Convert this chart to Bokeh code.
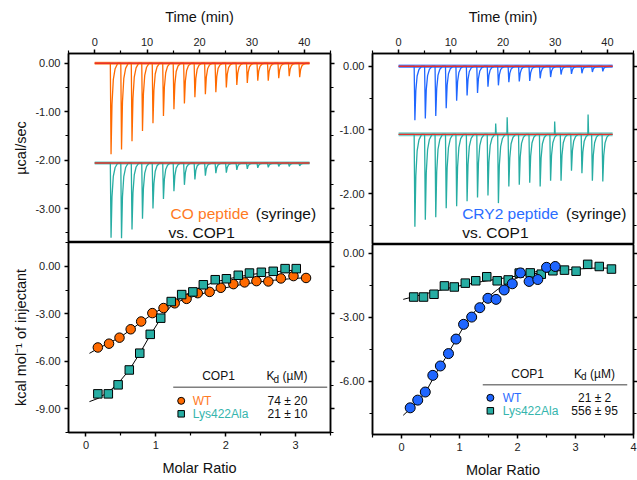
from bokeh.plotting import figure
from bokeh.layouts import row, column
from bokeh.models import LinearAxis, FixedTicker, NumeralTickFormatter, CustomJSTickFormatter, Range1d
from bokeh.embed import file_html
from bokeh.resources import INLINE
from bokeh.core.properties import value

# ---------------- data ----------------
inj_time = [3, 5, 7, 9, 11, 13, 15, 17, 19, 21, 23, 25, 27, 29, 31, 33, 35, 37, 39]
trace_start = 0.0
trace_end = 41.0

co_wt_base = 0.0
co_wt_peak = [-1.88, -1.78, -1.61, -1.40, -1.24, -1.09, -0.95, -0.83, -0.70, -0.64,
              -0.60, -0.50, -0.45, -0.41, -0.36, -0.36, -0.31, -0.27, -0.29]
co_k_base = -2.06
co_k_peak = [-3.60, -3.61, -3.43, -3.21, -3.00, -2.80, -2.64, -2.51, -2.40, -2.32,
             -2.27, -2.26, -2.20, -2.18, -2.16, -2.15, -2.13, -2.13, -2.12]
cry_wt_base = 0.0
cry_wt_peak = [-0.85, -0.82, -0.78, -0.66, -0.54, -0.46, -0.42, -0.32, -0.30, -0.25,
               -0.24, -0.23, -0.19, -0.17, -0.13, -0.12, -0.11, -0.09, -0.08]
cry_k_base = -1.07
cry_k_peak = [-2.52, -2.41, -2.37, -2.23, -2.20, -2.12, -2.06, -2.03, -2.15, -1.89,
              -1.86, -1.83, -1.89, -1.80, -1.80, -1.64, -1.68, -1.80, -1.81]
cry_k_spike_t = [18.6, 20.8, 29.9, 36.3]
cry_k_spike_y = [-0.90, -0.80, -0.87, -0.76]

# isotherms: CO peptide vs COP1
co_wt_x = [0.17, 0.33, 0.48, 0.64, 0.79, 0.95, 1.11, 1.27, 1.44, 1.60, 1.77, 1.93, 2.11, 2.27, 2.44, 2.61, 2.79, 2.97, 3.15]
co_wt_y = [-5.13, -4.89, -4.51, -3.98, -3.49, -2.96, -2.64, -2.34, -2.06, -1.70, -1.62, -1.36, -1.13, -1.02, -0.94, -0.96, -0.77, -0.62, -0.74]
co_k_x = [0.17, 0.32, 0.46, 0.62, 0.77, 0.92, 1.07, 1.22, 1.37, 1.53, 1.68, 1.85, 2.01, 2.18, 2.34, 2.51, 2.68, 2.85, 3.01]
co_k_y = [-8.06, -8.06, -7.49, -6.55, -5.49, -4.30, -3.28, -2.23, -1.79, -1.62, -1.17, -0.85, -0.79, -0.57, -0.43, -0.38, -0.32, -0.15, -0.15]
co_wt_fit_x = [0.05, 0.17, 0.33, 0.50, 0.65, 0.80, 0.95, 1.10, 1.30, 1.50, 1.70, 1.90, 2.10, 2.30, 2.50, 2.70, 2.90, 3.15]
co_wt_fit_y = [-5.50, -5.20, -4.85, -4.45, -3.98, -3.50, -3.02, -2.64, -2.26, -1.96, -1.69, -1.46, -1.26, -1.10, -0.98, -0.88, -0.80, -0.72]
co_k_fit_x = [0.05, 0.17, 0.32, 0.46, 0.62, 0.77, 0.92, 1.07, 1.22, 1.37, 1.53, 1.68, 1.85, 2.00, 2.20, 2.40, 2.60, 2.80, 3.00]
co_k_fit_y = [-8.55, -8.35, -7.95, -7.40, -6.55, -5.50, -4.35, -3.30, -2.50, -1.95, -1.55, -1.25, -1.00, -0.83, -0.65, -0.50, -0.40, -0.31, -0.24]

# isotherms: CRY2 peptide vs COP1
cry_wt_x = [0.15, 0.28, 0.41, 0.54, 0.67, 0.81, 0.94, 1.07, 1.21, 1.35, 1.49, 1.63, 1.77, 1.91, 2.05, 2.20, 2.35, 2.50, 2.65]
cry_wt_y = [-7.25, -6.89, -6.51, -5.73, -5.29, -4.71, -4.03, -3.34, -3.00, -2.56, -2.12, -2.17, -1.73, -1.44, -0.93, -1.33, -1.24, -0.67, -0.63]
cry_k_x = [0.21, 0.38, 0.56, 0.74, 0.91, 1.10, 1.28, 1.47, 1.65, 1.84, 2.03, 2.22, 2.41, 2.61, 2.81, 3.01, 3.21, 3.41, 3.62]
cry_k_y = [-2.06, -2.06, -1.93, -1.54, -1.59, -1.41, -1.30, -1.11, -1.30, -1.26, -0.94, -0.93, -0.99, -0.83, -0.80, -0.85, -0.53, -0.63, -0.75]
cry_wt_fit_x = [0.03, 0.15, 0.30, 0.45, 0.60, 0.75, 0.90, 1.05, 1.20, 1.35, 1.50, 1.65, 1.80, 1.95, 2.10, 2.25, 2.40, 2.55, 2.70]
cry_wt_fit_y = [-7.60, -7.30, -6.90, -6.35, -5.60, -4.95, -4.25, -3.55, -2.95, -2.45, -2.05, -1.72, -1.45, -1.22, -1.05, -0.92, -0.82, -0.74, -0.68]
cry_k_fit_x = [0.03, 0.20, 0.50, 0.80, 1.10, 1.40, 1.70, 2.00, 2.30, 2.60, 2.90, 3.20, 3.40, 3.62]
cry_k_fit_y = [-2.17, -2.05, -1.85, -1.65, -1.48, -1.33, -1.20, -1.07, -0.96, -0.86, -0.78, -0.72, -0.70, -0.71]

time_ticks = [0, 10, 20, 30, 40]
time_minor = [-5, 5, 15, 25, 35, 45]

# table texts
cop1_header = "COP1"
co_kd = ["74 \u00b1 20", "21 \u00b1 10"]
cry_kd = ["21 \u00b1 2", "556 \u00b1 95"]
names = ["WT", "Lys422Ala"]

# ---------------- style ----------------
FONT = "Liberation Sans"
ORANGE = "#ff6a00"
ORANGE_T = "#ff7a1f"
TEAL = "#27ada3"
TEAL_T = "#35b5ad"
BLUE = "#1f66ff"
BLUE_T = "#2a6dff"
RED = "#e8302a"

# peak template (relative time, fraction of depth)
tmpl_dt = [-0.02, 0.12, 0.30, 0.55, 0.90, 1.40]
tmpl_fr = [0.0, 1.0, 0.45, 0.18, 0.06, 0.0]


def build_trace(base, peaks, spike_t=None, spike_y=None):
    xs, ys = [trace_start], [base]
    events = [(t, "peak", d) for t, d in zip(inj_time, peaks)]
    if spike_t:
        events += [(t, "spike", h) for t, h in zip(spike_t, spike_y)]
    events.sort()
    for t, kind, d in events:
        if kind == "peak":
            for dt, fr in zip(tmpl_dt, tmpl_fr):
                xs.append(t + dt)
                ys.append(base + fr * (d - base))
        else:
            xs += [t - 0.05, t, t + 0.1]
            ys += [base, d, base]
    xs.append(trace_end)
    ys.append(base)
    return xs, ys


def style_axis(ax, ticks, minor, fmt=None, labels=True):
    ax.ticker = FixedTicker(ticks=ticks, minor_ticks=minor)
    ax.axis_line_width = 1.5
    ax.axis_line_color = "black"
    ax.major_tick_line_width = 1.5
    ax.minor_tick_line_width = 1.2
    ax.major_tick_out = 4
    ax.major_tick_in = 0
    ax.minor_tick_out = 3
    ax.minor_tick_in = 0
    ax.major_label_text_font = FONT
    ax.major_label_text_font_size = "11px"
    ax.major_label_text_color = "#222222"
    ax.major_label_standoff = 4
    ax.axis_label_text_font = FONT
    ax.axis_label_text_font_style = "normal"
    ax.axis_label_text_font_size = "14.5px"
    ax.axis_label_text_color = "#111111"
    if fmt:
        ax.formatter = NumeralTickFormatter(format=fmt)
    if not labels:
        ax.formatter = CustomJSTickFormatter(code="return ''")
        ax.major_label_standoff = 0


def make_fig(w, h, xr, yr, bl, br, bt, bb, x_loc):
    p = figure(width=w, height=h, x_range=Range1d(*xr), y_range=Range1d(*yr),
               output_backend="svg", toolbar_location=None, x_axis_location=x_loc,
               min_border_left=bl, min_border_right=br, min_border_top=bt,
               min_border_bottom=bb, title=None)
    p.grid.visible = False
    p.outline_line_color = "black"
    p.outline_line_width = 1.5
    p.outline_line_alpha = 1.0
    p.background_fill_color = "white"
    p.border_fill_color = "white"
    return p


def add_right_axis(p, ticks, minor):
    ax = LinearAxis()
    style_axis(ax, ticks, minor, labels=False)
    p.add_layout(ax, "right")


def txt(p, x, y, s, color="#111111", size="15.5px", align="left", xo=0, yo=0):
    p.text(x=[x], y=[y], text=[s], text_font=value(FONT), text_font_size=size,
           text_color=color, text_baseline="middle", text_align=align,
           x_offset=xo, y_offset=yo)


def thermo(p, base, peaks, color, fuzz_w, fuzz_a, spike_t=None, spike_y=None):
    p.line([trace_start, trace_end], [base, base], line_color=color, line_width=fuzz_w, line_alpha=fuzz_a)
    xs, ys = build_trace(base, peaks, spike_t, spike_y)
    p.line(xs, ys, line_color=color, line_width=1.3)
    p.line([trace_start, trace_end], [base, base], line_color=RED, line_width=1.4)


def table(p, hx, kx, lx0, lx1, ly, mx, nx, vx, ys, vals, wt_color, wt_text):
    txt(p, hx, ys[0], cop1_header, size="12px", align="center")
    txt(p, kx, ys[0], "K", size="12px")
    txt(p, kx, ys[0], "d", size="10px", xo=7, yo=3)
    txt(p, kx, ys[0], "(\u00b5M)", size="12px", xo=16)
    p.line([lx0, lx1], [ly, ly], line_color="#7f7f7f", line_width=1.5)
    p.scatter([mx], [ys[1]], marker="circle", size=7, fill_color=wt_color, line_color="black", line_width=1)
    p.scatter([mx], [ys[2]], marker="square", size=6.5, fill_color=TEAL, line_color="black", line_width=1)
    txt(p, nx, ys[1], names[0], color=wt_text, size="12px")
    txt(p, nx, ys[2], names[1], color=TEAL_T, size="12px")
    txt(p, vx, ys[1], vals[0], size="12px", align="center")
    txt(p, vx, ys[2], vals[1], size="12px", align="center")


# ---------------- left top ----------------
lt = make_fig(336, 242, (-5, 45), (-3.7, 0.2), 68, 6, 53, 0, "above")
style_axis(lt.xaxis[0], time_ticks, time_minor)
lt.xaxis[0].axis_label = "Time (min)"
lt.xaxis[0].axis_label_standoff = 10
style_axis(lt.yaxis[0], [0, -1, -2, -3], [0.0, -0.5, -1.5, -2.5, -3.5], fmt="0.00")
lt.yaxis[0].axis_label = "\u00b5cal/sec"
lt.yaxis[0].axis_label_standoff = 3
add_right_axis(lt, [0, -1, -2, -3], [-0.5, -1.5, -2.5, -3.5])
thermo(lt, co_wt_base, co_wt_peak, ORANGE, 3, 0.7)
thermo(lt, co_k_base, co_k_peak, TEAL, 3, 0.7)
txt(lt, 14.47, -3.10, "CO peptide", color=ORANGE_T)
txt(lt, 30.75, -3.10, "(syringe)")
txt(lt, 14.08, -3.49, "vs. COP1")

# ---------------- left bottom ----------------
lb = make_fig(336, 238, (-0.25, 3.5), (-10.5, 1.5), 68, 6, 0, 48, "below")
style_axis(lb.xaxis[0], [0, 1, 2, 3], [-0.5, 0.5, 1.5, 2.5, 3.5])
lb.xaxis[0].axis_label = "Molar Ratio"
lb.xaxis[0].axis_label_standoff = 8
style_axis(lb.yaxis[0], [0, -3, -6, -9], [1.5, -1.5, -4.5, -7.5, -10.5], fmt="0.00")
lb.yaxis[0].axis_label = "kcal mol\u207b\u00b9 of injectant"
lb.yaxis[0].axis_label_standoff = 3
add_right_axis(lb, [0, -3, -6, -9], [1.5, -1.5, -4.5, -7.5, -10.5])
lb.line(co_wt_fit_x, co_wt_fit_y, line_color="black", line_width=1)
lb.line(co_k_fit_x, co_k_fit_y, line_color="black", line_width=1)
lb.scatter(co_wt_x, co_wt_y, marker="circle", size=9.5, fill_color=ORANGE, line_color="black", line_width=1)
lb.scatter(co_k_x, co_k_y, marker="square", size=8.5, fill_color=TEAL, line_color="black", line_width=1)
table(lb, 1.897, 2.584, 1.249, 3.453, -7.64, 1.363, 1.529, 2.884, [-6.96, -8.50, -9.32], co_kd, ORANGE, ORANGE_T)

# ---------------- right top ----------------
rt = make_fig(301, 244, (-5, 45), (-2.8, 0.2), 35, 4, 53, 0, "above")
style_axis(rt.xaxis[0], time_ticks, time_minor)
rt.xaxis[0].axis_label = "Time (min)"
rt.xaxis[0].axis_label_standoff = 10
style_axis(rt.yaxis[0], [0, -1, -2], [-0.5, -1.5, -2.5], fmt="0.00")
add_right_axis(rt, [0, -1, -2], [-0.5, -1.5, -2.5])
thermo(rt, cry_k_base, cry_k_peak, TEAL, 4, 0.6, cry_k_spike_t, cry_k_spike_y)
thermo(rt, cry_wt_base, cry_wt_peak, BLUE, 3.5, 0.7)
txt(rt, 12.18, -2.31, "CRY2 peptide", color=BLUE_T)
txt(rt, 32.08, -2.31, "(syringe)")
txt(rt, 12.18, -2.61, "vs. COP1")

# ---------------- right bottom ----------------
rb = make_fig(301, 236, (-0.5, 4.0), (-8.5, 0.4), 35, 4, 0, 46, "below")
style_axis(rb.xaxis[0], [0, 1, 2, 3, 4], [-0.5, 0.5, 1.5, 2.5, 3.5])
rb.xaxis[0].axis_label = "Molar Ratio"
rb.xaxis[0].axis_label_standoff = 8
style_axis(rb.yaxis[0], [0, -3, -6], [-1.5, -4.5, -7.5], fmt="0.00")
add_right_axis(rb, [0, -3, -6], [-1.5, -4.5, -7.5])
rb.line(cry_wt_fit_x, cry_wt_fit_y, line_color="black", line_width=1)
rb.line(cry_k_fit_x, cry_k_fit_y, line_color="black", line_width=1)
rb.scatter(cry_k_x, cry_k_y, marker="square", size=8.5, fill_color=TEAL, line_color="black", line_width=1)
rb.scatter(cry_wt_x, cry_wt_y, marker="circle", size=10, fill_color=BLUE, line_color="black", line_width=1)
table(rb, 2.174, 2.975, 1.401, 3.892, -6.172, 1.532, 1.745, 3.330, [-5.657, -6.781, -7.390], cry_kd, BLUE, BLUE_T)

layout = row(column(lt, lb), column(rt, rb))
open("out.html", "w").write(file_html(layout, INLINE))
